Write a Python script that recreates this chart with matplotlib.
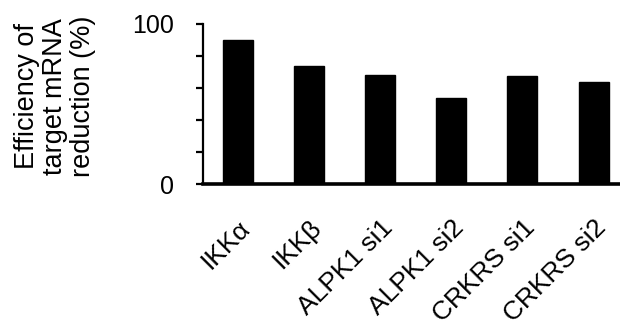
import numpy as np
import matplotlib
matplotlib.use("Agg")
import matplotlib.pyplot as plt
import matplotlib.transforms as mtransforms

plt.rcParams['font.family'] = ['Liberation Sans', 'DejaVu Sans']

# knockdown efficiency per siRNA target
targets = ['IKKα', 'IKKβ', 'ALPK1 si1', 'ALPK1 si2', 'CRKRS si1', 'CRKRS si2']
efficiency = [90, 74, 68, 54, 67.5, 64]
yticks = [0, 20, 40, 60, 80, 100]
ytick_labels = ['0', '', '', '', '', '100']

fig = plt.figure(figsize=(6.2, 3.36), dpi=100)
ax = fig.add_axes([0.327, 0.452, 0.673, 0.477])

x = np.arange(len(targets))
ax.bar(x, efficiency, width=0.42, color='black', edgecolor='black')

ax.set_xlim(-0.49, 5.37)
ax.set_ylim(0, 100)

ax.spines['top'].set_visible(False)
ax.spines['right'].set_visible(False)
ax.spines['left'].set_linewidth(1.6)
ax.spines['bottom'].set_linewidth(2.6)

ax.set_yticks(yticks)
ax.set_yticklabels(ytick_labels, fontsize=18)
ax.tick_params(axis='y', direction='out', length=5, width=1.6, pad=16)

ax.set_xticks(x)
ax.set_xticklabels(targets, fontsize=19, rotation=45, ha='right',
                   va='center', rotation_mode='anchor')
ax.tick_params(axis='x', length=0, pad=0)
shift = mtransforms.ScaledTranslation(9 / 100, -40 / 100, fig.dpi_scale_trans)
for lbl in ax.get_xticklabels():
    lbl.set_transform(lbl.get_transform() + shift)

fig.text(0.088, 0.714, 'Efficiency of\ntarget mRNA\nreduction (%)', rotation=90,
         ha='center', va='center', fontsize=19.5, linespacing=1.1)

fig.savefig('out.png', dpi=100)
